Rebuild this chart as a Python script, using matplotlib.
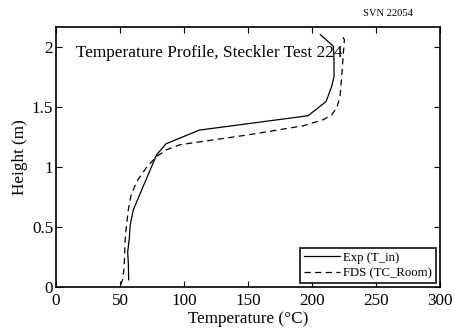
import matplotlib
matplotlib.use("Agg")
import matplotlib.pyplot as plt
from matplotlib.ticker import FuncFormatter

plt.rcParams['font.family'] = ['Liberation Serif', 'DejaVu Serif']

# Experimental profile (T_in)
exp_temp = [56.8, 56.5, 56.0, 57.3, 58.0, 60.4, 78.6, 86.0, 112.0, 197.0, 211.0, 215.4, 217.2, 217.2, 216.7, 206.5]
exp_height = [0.06, 0.20, 0.29, 0.41, 0.52, 0.645, 1.104, 1.196, 1.31, 1.43, 1.549, 1.675, 1.758, 1.89, 2.01, 2.107]

# FDS profile (TC_Room)
fds_temp = [50.5, 52.0, 53.3, 53.9, 54.4, 56.5, 58.5, 63.0, 70.8, 78.6, 86.5, 96.9, 150.0, 193.2, 208.8, 215.4, 219.3, 221.9, 223.5, 224.5, 225.3, 223.2]
fds_height = [0.017, 0.06, 0.17, 0.367, 0.45, 0.645, 0.76, 0.88, 1.0, 1.09, 1.146, 1.188, 1.27, 1.346, 1.397, 1.438, 1.494, 1.59, 1.8, 1.95, 2.064, 2.106]

x_ticks = [0, 50, 100, 150, 200, 250, 300]
y_ticks = [0, 0.5, 1, 1.5, 2]

fig = plt.figure(figsize=(4.55, 3.3), dpi=100)
ax = fig.add_axes([56 / 455, 1 - 287 / 330, 384 / 455, (287 - 26.5) / 330])

ax.plot(exp_temp, exp_height, color='black', lw=0.9, label='Exp (T_in)')
ax.plot(fds_temp, fds_height, color='black', lw=0.9, ls=(0, (5, 3.5)), label='FDS (TC_Room)')

ax.set_xlim(0, 300)
ax.set_ylim(0, 2.175)
ax.set_xticks(x_ticks)
ax.set_yticks(y_ticks)
ax.yaxis.set_major_formatter(FuncFormatter(lambda v, p: ('%g' % v)))
ax.tick_params(direction='in', top=True, right=True, labelsize=12.3, length=4, width=0.8)
ax.tick_params(axis='x', pad=4)
ax.tick_params(axis='y', pad=2)
for s in ax.spines.values():
    s.set_linewidth(1.2)

ax.set_xlabel('Temperature (°C)', fontsize=12.3, labelpad=2)
ax.set_ylabel('Height (m)', fontsize=12.3, labelpad=3)

ax.text(15.5, 1.95, 'Temperature Profile, Steckler Test 224', fontsize=12.4, va='center', ha='left')

leg = ax.legend(loc='lower right', fontsize=9.2, frameon=True, fancybox=False, edgecolor='black',
                borderpad=0.3, handlelength=2.8, handletextpad=0.3, labelspacing=0.3,
                borderaxespad=0.3)
leg.get_frame().set_linewidth(1.4)

fig.text(388 / 455, 1 - 14 / 330, 'SVN 22054', fontsize=7.6, ha='center', va='center')

fig.savefig('out.png', dpi=100)
